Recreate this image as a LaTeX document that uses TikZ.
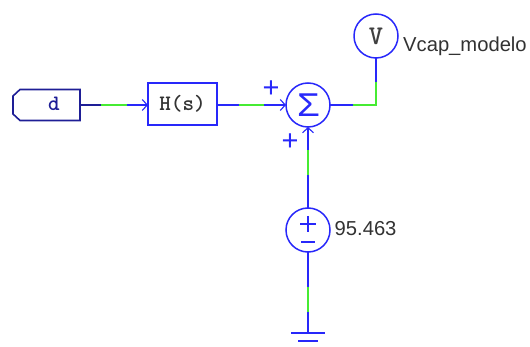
\documentclass[tikz,border=0pt]{standalone}
\usepackage{fontspec}
\setmainfont{Liberation Sans}
\usetikzlibrary{arrows.meta}
\definecolor{wireblue}{RGB}{40,40,250}
\definecolor{wiregreen}{RGB}{70,235,50}
\definecolor{navyline}{RGB}{30,30,150}
\definecolor{labelgray}{RGB}{50,50,50}
\tikzset{
  x=1pt,y=-1pt,
  wire/.style={draw=wireblue,line width=1.6pt},
  greenwire/.style={draw=wiregreen,line width=1.6pt},
  navywire/.style={draw=navyline,line width=1.6pt},
  chevron/.style={-{Straight Barb[length=5pt,width=11pt,line width=1.1pt]}},
  elem/.style={circle,draw=wireblue,line width=1.5pt,minimum size=44pt,inner sep=0pt,outer sep=0pt},
  blockbox/.style={rectangle,draw=wireblue,line width=1.6pt,minimum width=69pt,minimum height=42pt,inner sep=0pt,outer sep=0pt,font=\ttfamily\bfseries\fontsize{22}{22}\selectfont,text=black!80},
  valuelabel/.style={anchor=west,inner sep=0pt,text=labelgray,font=\fontsize{20.2}{21}\selectfont},
  signlabel/.style={inner sep=0pt,text=wireblue,font=\fontsize{29}{29}\selectfont},
}
\begin{document}
\begin{tikzpicture}
\useasboundingbox (0,0) rectangle (530,347);
% input tag
\draw[navywire] (20,89.5) -- (80,89.5) -- (80,120.5) -- (20,120.5) -- (13,114) -- (13,96) -- cycle;
\node[inner sep=0pt,text=navyline,font=\ttfamily\bfseries\fontsize{22}{22}\selectfont] (d) at (54,103.5) {d};
\coordinate (dout) at (80,105);
\node[blockbox] (hs) at (182.5,104) {H(s)};
\node[elem] (sum) at (308,105) {};
\node[inner sep=0pt,text=wireblue,xscale=1.12,font=\fontsize{33}{33}\selectfont] (sigma) at (308.5,105) {Σ};
\node[elem,font=\ttfamily\bfseries\fontsize{27}{27}\selectfont,text=black!75] (vm) at (376,36) {V};
\node[elem] (src) at (308,230) {};
\node[valuelabel] (vlab) at (403,46.5) {Vcap\_modelo};
\node[valuelabel] (srclab) at (334.5,229) {95.463};
\node[signlabel] (p1) at (271,89) {+};
\node[signlabel] (p2) at (290,142) {+};
% source polarity
\draw[wire] (300,224) -- (316,224) (308,216) -- (308,232) (301,242) -- (315,242);
% ground
\coordinate (gnd) at (308,333);
\draw[wire] (291,333) -- (325,333) (298,341) -- (318,341);
% connectors
\coordinate (c1) at (101,105); \coordinate (c2) at (127,105);
\draw[navywire] (dout) -- (c1);
\draw[greenwire] (c1) -- (c2);
\draw[wire,chevron] (c2) -- (148,105);
\coordinate (c3) at (239,105); \coordinate (c4) at (264,105);
\draw[wire] (217,105) -- (c3);
\draw[greenwire] (c3) -- (c4);
\draw[wire,chevron] (c4) -- (sum.west);
\coordinate (c5) at (353,105); \coordinate (c6) at (376.8,105); \coordinate (c7) at (376,82);
\draw[wire] (sum.east) -- (c5);
\draw[greenwire] (c5) -- (c6) (376,105.8) -- (c7);
\draw[wire] (c7) -- (vm.south);
\coordinate (c8) at (308,150); \coordinate (c9) at (308,175);
\draw[wire,chevron] (c8) -- (sum.south);
\draw[greenwire] (c8) -- (c9);
\draw[wire] (c9) -- (src.north);
\coordinate (c10) at (308,287); \coordinate (c11) at (308,312);
\draw[wire] (src.south) -- (c10);
\draw[greenwire] (c10) -- (c11);
\draw[wire] (c11) -- (gnd);
\end{tikzpicture}
\end{document}
